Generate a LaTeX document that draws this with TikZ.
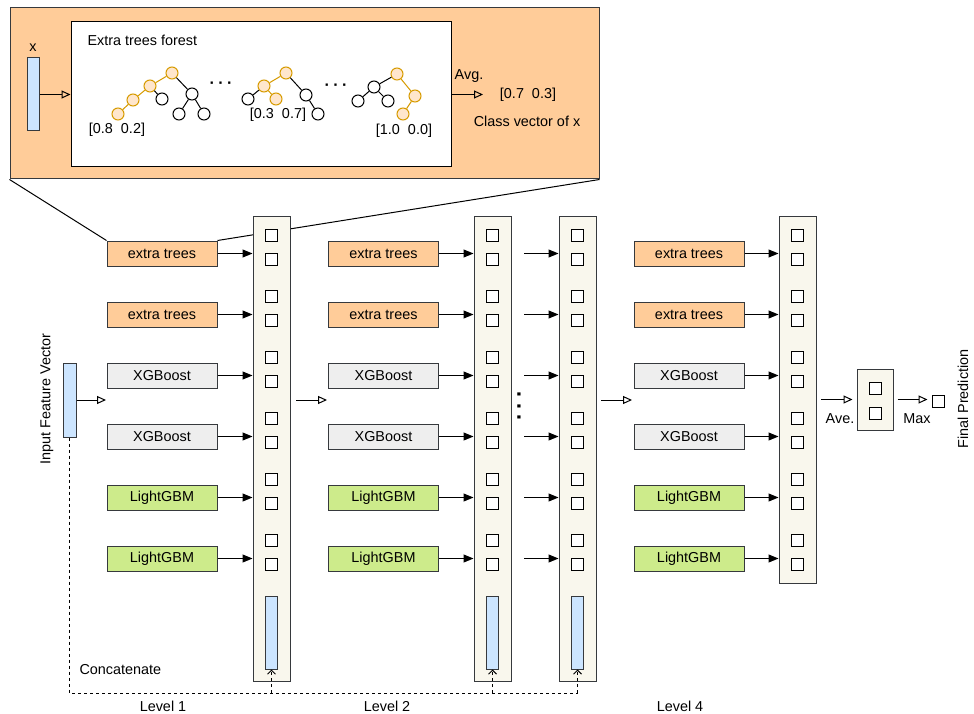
\documentclass[tikz,border=0pt]{standalone}
\usepackage{fontspec}
\setmainfont{Liberation Sans}
\usetikzlibrary{arrows.meta}

\definecolor{edgegray}{HTML}{36393D}
\definecolor{etfill}{HTML}{FFCC99}
\definecolor{xgfill}{HTML}{EEEEEE}
\definecolor{lgfill}{HTML}{CDEB8B}
\definecolor{colfill}{HTML}{F9F7ED}
\definecolor{barfill}{HTML}{CCE5FF}
\definecolor{gold}{HTML}{D79B00}
\definecolor{peach}{HTML}{FFE6CC}

\tikzset{
  box/.style={draw=edgegray, line width=1pt, inner sep=0pt, minimum width=110pt, minimum height=25pt},
  etbox/.style={box, fill=etfill},
  xgbox/.style={box, fill=xgfill},
  lgbox/.style={box, fill=lgfill},
  column/.style={draw=edgegray, line width=1pt, fill=colfill, minimum width=37pt, inner sep=0pt},
  cell/.style={draw=black, line width=1pt, fill=white, minimum size=12pt, inner sep=0pt},
  bar/.style={draw=edgegray, line width=1pt, fill=barfill, inner sep=0pt},
  tn/.style={circle, draw=black, line width=1pt, fill=white, minimum size=12pt, inner sep=0pt},
  tno/.style={tn, draw=gold, fill=peach},
  te/.style={line width=1pt},
  teo/.style={line width=1pt, draw=gold},
  solid arrow/.style={line width=1pt, -{Triangle[length=10pt,width=8pt]}},
  hollow arrow/.style={line width=1pt, -{Triangle[open,length=9pt,width=8pt]}},
  link/.style={line width=1pt, dash pattern=on 3pt off 3pt},
}

\begin{document}
\begin{tikzpicture}[x=1pt, y=-1pt, font=\fontsize{14.4}{17}\selectfont]
\useasboundingbox (0,0) rectangle (974,714);

% ---------- detail panel: one extra trees forest ----------
\node[draw=edgegray, line width=1pt, fill=etfill, minimum width=589pt, minimum height=171pt, inner sep=0pt] (panel) at (304.5,93.5) {};
\node[draw=black, line width=1pt, fill=white, minimum width=380pt, minimum height=145pt, inner sep=0pt] (forest) at (261,94.5) {};
\node[bar, minimum width=12pt, minimum height=73pt] (xbar) at (33,94.5) {};
\node (xlab) at (33,48) {x};
\draw[hollow arrow] (xbar.east) -- (forest.west);
\node[anchor=west] (ftitle) at (84,40) {Extra trees forest};

% tree 1
\node[tno] (ta1) at (172,73) {};
\node[tno] (ta2) at (150,86) {};
\node[tno] (ta3) at (133,100) {};
\node[tno] (ta4) at (118,114) {};
\node[tn]  (ta5) at (162,99) {};
\node[tn]  (ta6) at (192,94) {};
\node[tn]  (ta7) at (179,114) {};
\node[tn]  (ta8) at (204,114) {};
\draw[teo] (ta1) -- (ta2) (ta2) -- (ta3) (ta3) -- (ta4);
\draw[te] (ta2) -- (ta5) (ta1) -- (ta6) (ta6) -- (ta7) (ta6) -- (ta8);

% tree 2
\node[tno] (tb1) at (286,73) {};
\node[tno] (tb2) at (264,86) {};
\node[tn]  (tb3) at (248,99) {};
\node[tno] (tb4) at (276,99) {};
\node[tn]  (tb5) at (306,95) {};
\node[tn]  (tb6) at (318,114) {};
\draw[teo] (tb1) -- (tb2) (tb2) -- (tb4);
\draw[te] (tb2) -- (tb3) (tb1) -- (tb5) (tb5) -- (tb6);

% tree 3
\node[tno] (tc1) at (397,74) {};
\node[tn]  (tc2) at (374,87) {};
\node[tn]  (tc3) at (358,101) {};
\node[tn]  (tc4) at (388,101) {};
\node[tno] (tc5) at (415,96) {};
\node[tno] (tc6) at (403,114) {};
\draw[te] (tc1) -- (tc2) (tc2) -- (tc3) (tc2) -- (tc4);
\draw[teo] (tc1) -- (tc5) (tc5) -- (tc6);

\node[font=\fontsize{16}{16}\selectfont\bfseries] (hdots1) at (221,85) {·\hspace{3.5pt}·\hspace{3.5pt}·};
\node[font=\fontsize{16}{16}\selectfont\bfseries] (hdots2) at (336,87) {·\hspace{3.5pt}·\hspace{3.5pt}·};
\node (pa) at (117,130) {[0.8~~0.2]};
\node (pb) at (278,115) {[0.3~~0.7]};
\node (pc) at (404,131) {[1.0~~0.0]};

\coordinate (avgend) at (483,94.5);
\draw[hollow arrow] (forest.east) -- (avgend);
\node (avg) at (469,76) {Avg.};
\node (cv) at (528,95) {[0.7~~0.3]};
\node (cvlab) at (527,121) {Class vector of x};

% ---------- base learners ----------
\foreach \lvl/\bx in {1/162, 2/383.5, 4/689} {
  \foreach \k/\sty/\txt in {0/etbox/extra trees, 1/etbox/extra trees, 2/xgbox/XGBoost,
                            3/xgbox/XGBoost, 4/lgbox/LightGBM, 5/lgbox/LightGBM} {
    \node[\sty] (m\lvl-\k) at (\bx,{253.5+61*\k}) {\txt};
  }
}

% zoom lines from the panel to the first learner
\draw[line width=1pt] (panel.south west) -- (m1-0.north west);
\draw[line width=1pt] (m1-0.north east) -- (panel.south east);

% ---------- level columns ----------
\node[column, minimum height=465pt] (lv1) at (271.5,448.5) {};
\node[column, minimum height=465pt] (lv2) at (492.5,448.5) {};
\node[column, minimum height=465pt] (lv3) at (577.5,448.5) {};
\node[column, minimum height=367pt] (lv4) at (797.5,399.5) {};

\foreach \c/\x in {1/271.5, 2/492.5, 3/577.5, 4/797.5} {
  \foreach \k in {0,...,5} {
    \node[cell] (cell-\c-\k-a) at (\x,{235+61*\k}) {};
    \node[cell] (cell-\c-\k-b) at (\x,{259.5+61*\k}) {};
  }
}
\foreach \c/\x in {1/271.5, 2/492.5, 3/577.5} {
  \node[bar, minimum width=12pt, minimum height=73pt] (feat\c) at (\x,632.5) {};
}

% learner outputs into the columns
\foreach \lvl in {1,2,4} {
  \foreach \k in {0,...,5} {
    \draw[solid arrow] (m\lvl-\k.east) -- (m\lvl-\k.east -| lv\lvl.west);
  }
}
\foreach \k in {0,...,5} {
  \coordinate (l3s-\k) at (524,{253.5+61*\k});
  \draw[solid arrow] (l3s-\k) -- (l3s-\k -| lv3.west);
}

% levels omitted between level 2 and the last level
\node[rotate=90, font=\fontsize{22}{22}\selectfont\bfseries] (vdots) at (522,405.5) {·\hspace{4pt}·\hspace{4pt}·};

% ---------- input and passes between levels ----------
\node[bar, minimum width=13pt, minimum height=74pt] (inbar) at (69.5,400) {};
\node[rotate=90] (inlab) at (47,399) {Input Feature Vector};
\coordinate (inend) at (106,400);
\draw[hollow arrow] (inbar.east) -- (inend);

\coordinate (g1s) at (296,400);
\coordinate (g1e) at (327,400);
\draw[hollow arrow] (g1s) -- (g1e);
\coordinate (g3s) at (601,400);
\coordinate (g3e) at (632,400);
\draw[hollow arrow] (g3s) -- (g3e);

% ---------- averaging and final prediction ----------
\node[column, minimum width=36pt, minimum height=61pt] (avebox) at (875,399.5) {};
\node[cell] (avec1) at (875,388) {};
\node[cell] (avec2) at (875,413) {};
\coordinate (aves) at (821,399.5);
\draw[hollow arrow, shorten >=4pt] (aves) -- (avebox.west);
\node (avelab) at (840,419) {Ave.};
\node[cell] (final) at (938,401) {};
\draw[hollow arrow, shorten <=4pt, shorten >=4pt] (avebox.east) -- (final.west |- avebox.east);
\node (maxlab) at (917,419) {Max};
\node[rotate=90] (fplab) at (963,399) {Final Prediction};

% ---------- concatenation of the input vector ----------
\coordinate (cbase) at (577.5,693);
\draw[link] (inbar.south) |- (cbase);
\foreach \c in {1,2,3} {
  \draw[link, -{Straight Barb[length=4pt,width=8pt]}] (feat\c.south |- cbase) -- (feat\c.south);
}
\node[anchor=west] (concat) at (76,670) {Concatenate};

\node (lvl1lab) at (163,706) {Level 1};
\node (lvl2lab) at (387,706) {Level 2};
\node (lvl4lab) at (680,706) {Level 4};
\end{tikzpicture}
\end{document}
